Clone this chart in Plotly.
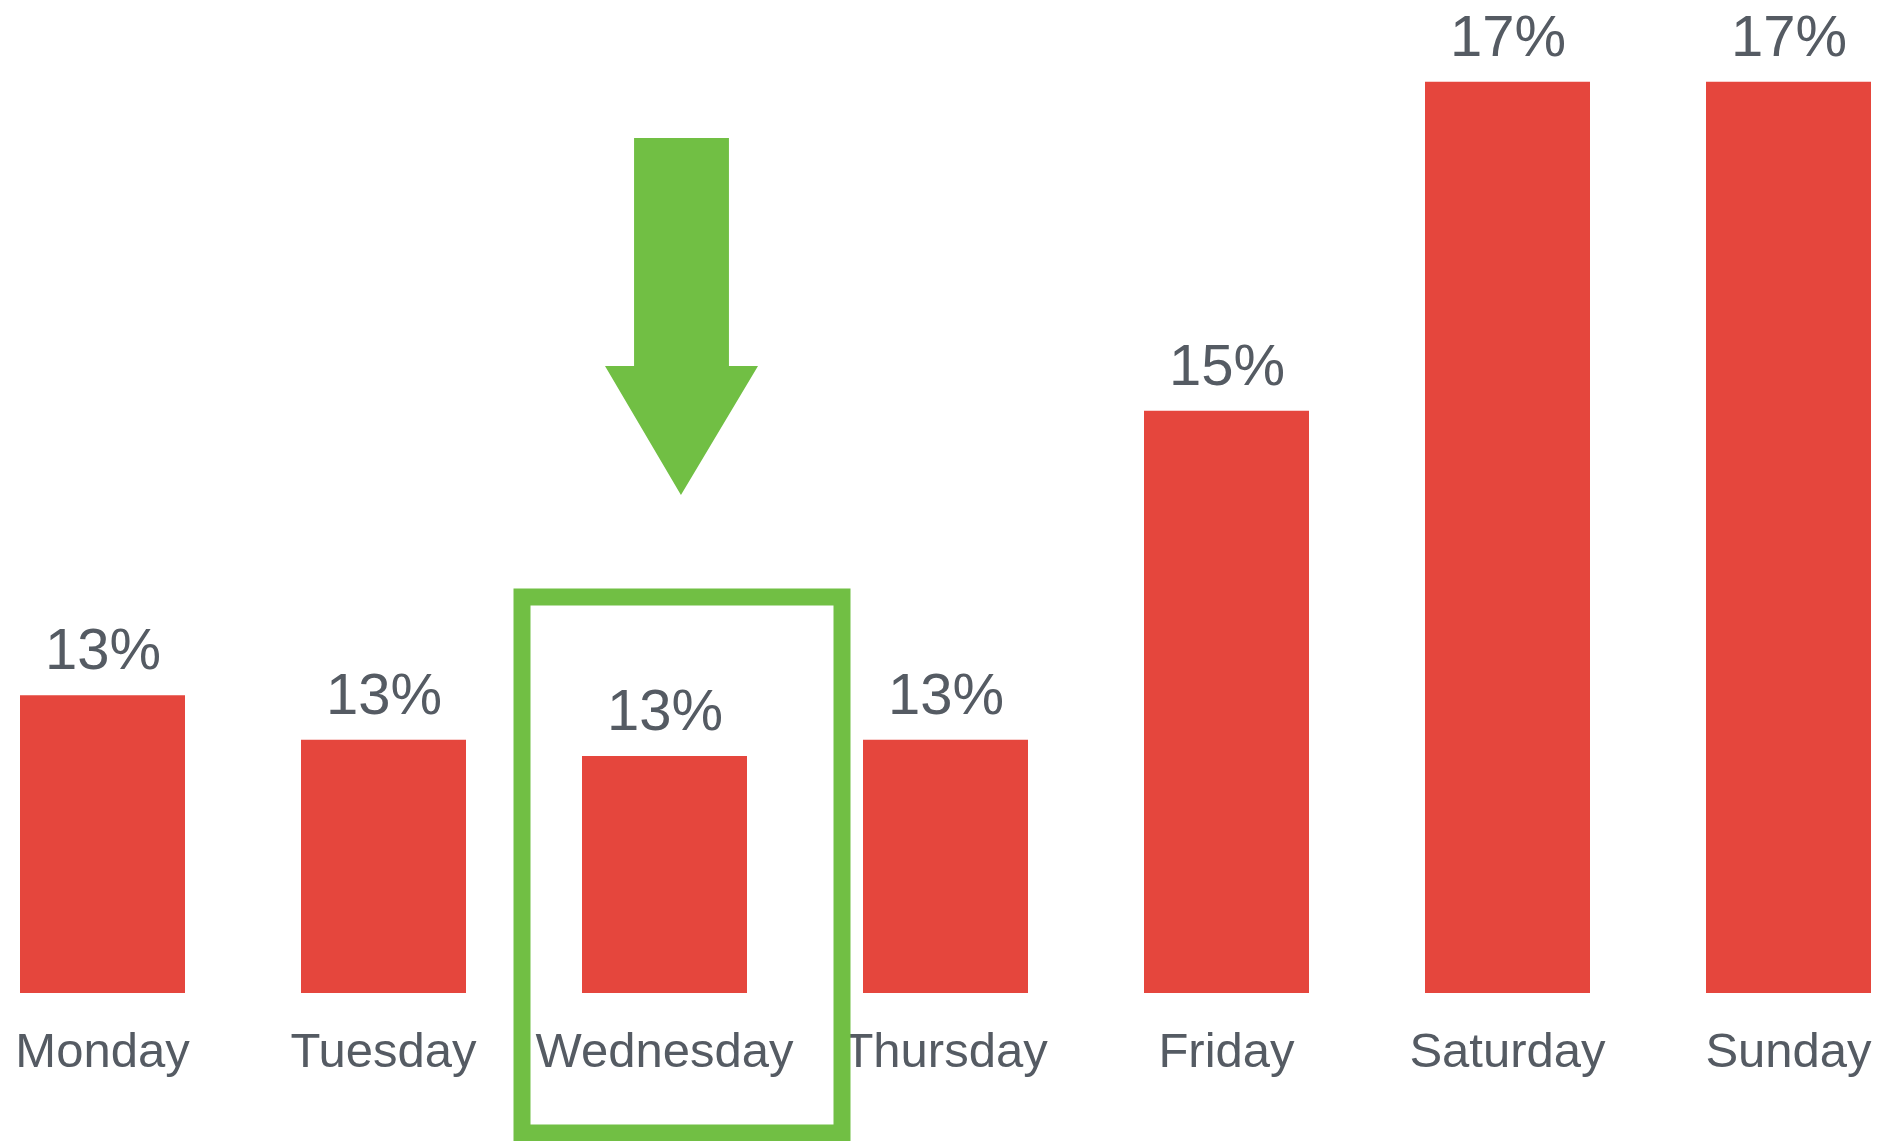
import plotly.graph_objects as go

days = ["Monday", "Tuesday", "Wednesday", "Thursday", "Friday", "Saturday", "Sunday"]
share = [13.27, 13.0, 12.9, 13.0, 15.0, 17.0, 17.0]  # % of total

PAGE_PAD = 8           # default <body> margin of the html page
W, H = 1883 - PAGE_PAD, 1141 - PAGE_PAD
BOTTOM = 993 - PAGE_PAD          # pixel row of the bar baseline
X0, STEP = 102.5 - PAGE_PAD, 281  # pixel centre of Monday, spacing between bars
Y_MIN, PX_PER_PCT = 11.46, 164.5

RED = "#E5463D"
GREEN = "#71BF44"
GREY = "#555B63"
FONT = "Liberation Sans, Arial, sans-serif"


def px_x(p):
    return (p - X0) / STEP


def px_y(p):
    return Y_MIN + (BOTTOM - p) / PX_PER_PCT


# page pixel -> paper coords (plot area spans the full width, top to BOTTOM)
def paper_x(p):
    return (p - PAGE_PAD) / W


def paper_y(p):
    return 1 - (p - PAGE_PAD) / BOTTOM


fig = go.Figure()
fig.add_trace(go.Bar(
    x=days, y=share,
    marker=dict(color=RED, line=dict(width=0)),
    hoverinfo="skip",
))

# value labels above bars
for d, v in zip(days, share):
    fig.add_annotation(
        x=d, y=v, text=f"{v:.0f}%", showarrow=False,
        yanchor="bottom", yshift=12,
        font=dict(family=FONT, size=58, color=GREY),
    )

# green highlight box round Wednesday
fig.add_shape(
    type="rect", xref="paper", yref="paper",
    x0=paper_x(522), x1=paper_x(842), y0=paper_y(1133), y1=paper_y(597),
    line=dict(color=GREEN, width=17), fillcolor="rgba(0,0,0,0)",
    layer="above",
)

# down arrow
pts = [(634, 138), (729, 138), (729, 366), (758, 366), (681, 495),
       (605, 366), (634, 366)]
path = "M " + " L ".join(f"{paper_x(a):.4f},{paper_y(b):.4f}" for a, b in pts) + " Z"
fig.add_shape(type="path", xref="paper", yref="paper", path=path,
              fillcolor=GREEN, line=dict(width=0))

fig.update_layout(
    width=W, height=H,
    margin=dict(l=0, r=0, t=0, b=H - BOTTOM),
    plot_bgcolor="white", paper_bgcolor="white",
    bargap=1 - 165 / STEP,
    showlegend=False,
    xaxis=dict(
        range=[px_x(0), px_x(W)], showgrid=False, zeroline=False,
        showline=False, ticks="", ticklabelstandoff=24,
        tickfont=dict(family=FONT, size=49, color=GREY),
    ),
    yaxis=dict(range=[Y_MIN, px_y(0)], visible=False),
)

fig.write_html("out.html")
